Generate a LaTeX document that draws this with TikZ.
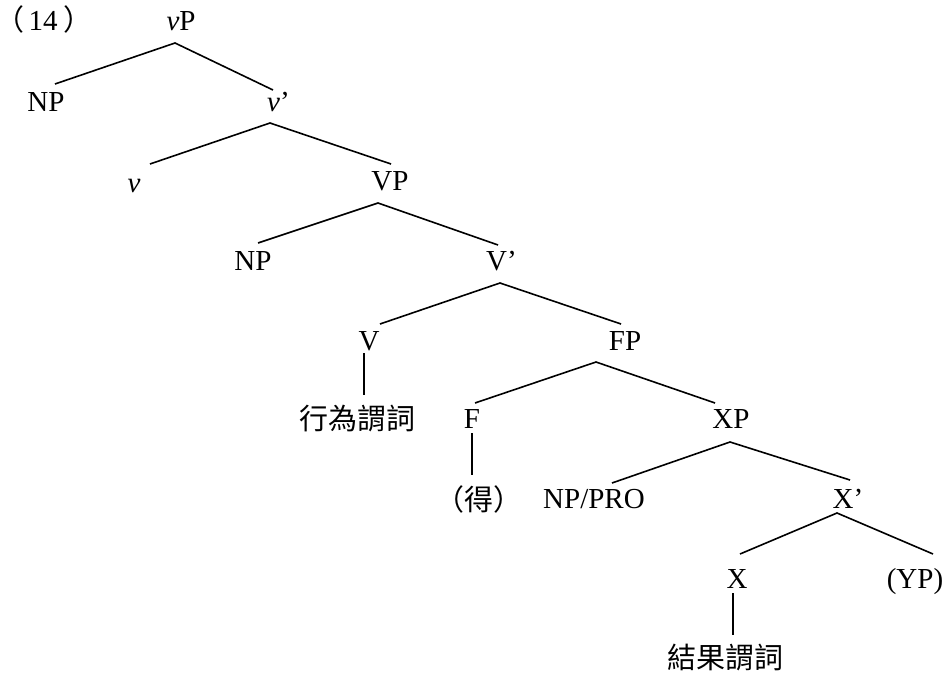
\documentclass[tikz,border=0pt]{standalone}
\usepackage{fontspec}
\setmainfont{Liberation Serif}
\newfontfamily\cjk{Noto Sans CJK TC}
\newfontfamily\cjkhalf[RawFeature=+halt]{Noto Sans CJK TC}
\begin{document}
\begin{tikzpicture}[x=1pt,y=-1pt,
  lab/.style={anchor=base,inner sep=0pt,font=\fontsize{29}{34}\selectfont},
  br/.style={line width=1.6pt}]
\useasboundingbox (0,0) rectangle (949,676);
% labels
\node[lab,anchor=base west] (ex) at (10,31) {{\cjkhalf （}\kern4pt 14\kern6pt{\cjkhalf ）}};
\node[lab] (vP) at (181,31) {\textit{v}P};
\node[lab] (NPa) at (46,112) {NP};
\node[lab] (vbar) at (278.5,112) {\textit{v}’};
\node[lab] (v) at (134,193) {\textit{v}};
\node[lab] (VP) at (390,191) {VP};
\node[lab] (NPb) at (253,270) {NP};
\node[lab] (Vbar) at (501.5,270) {V’};
\node[lab] (V) at (369,350) {V};
\node[lab] (FP) at (625,350) {FP};
\node[lab] (act) at (357,429) {\cjk 行為謂詞};
\node[lab] (F) at (472,428) {F};
\node[lab] (XP) at (731,428) {XP};
\node[lab] (de) at (479,510) {\cjk （得）};
\node[lab] (NPPRO) at (594,508) {NP/PRO};
\node[lab] (Xbar) at (848,508) {X’};
\node[lab] (X) at (737,588) {X};
\node[lab] (YP) at (915,588) {(YP)};
\node[lab] (res) at (725,668) {\cjk 結果謂詞};
% branch points
\coordinate (vPj) at (175,43);  \coordinate (NPat) at (55,84);   \coordinate (vbart) at (273,90);
\coordinate (vbarj) at (270,123); \coordinate (vt) at (150,164); \coordinate (VPt) at (391,164);
\coordinate (VPj) at (378,203); \coordinate (NPbt) at (258,243); \coordinate (Vbart) at (498,245);
\coordinate (Vbarj) at (500,283); \coordinate (Vt) at (380,324); \coordinate (FPt) at (621,324);
\coordinate (Vj) at (364,353); \coordinate (actt) at (364,395);
\coordinate (FPj) at (596,362); \coordinate (Ft) at (475,403); \coordinate (XPt) at (715,403);
\coordinate (Fj) at (472,433); \coordinate (det) at (472,475);
\coordinate (XPj) at (730,442); \coordinate (NPPROt) at (612,483); \coordinate (Xbart) at (850,480);
\coordinate (Xbarj) at (837,513); \coordinate (Xt) at (740,554); \coordinate (YPt) at (933,554);
\coordinate (Xj) at (733,593); \coordinate (rest) at (733,635);
% branches
\draw[br] (NPat) -- (vPj) -- (vbart);
\draw[br] (vt) -- (vbarj) -- (VPt);
\draw[br] (NPbt) -- (VPj) -- (Vbart);
\draw[br] (Vt) -- (Vbarj) -- (FPt);
\draw[br] (Vj) -- (actt);
\draw[br] (Ft) -- (FPj) -- (XPt);
\draw[br] (Fj) -- (det);
\draw[br] (NPPROt) -- (XPj) -- (Xbart);
\draw[br] (Xt) -- (Xbarj) -- (YPt);
\draw[br] (Xj) -- (rest);
\end{tikzpicture}
\end{document}
